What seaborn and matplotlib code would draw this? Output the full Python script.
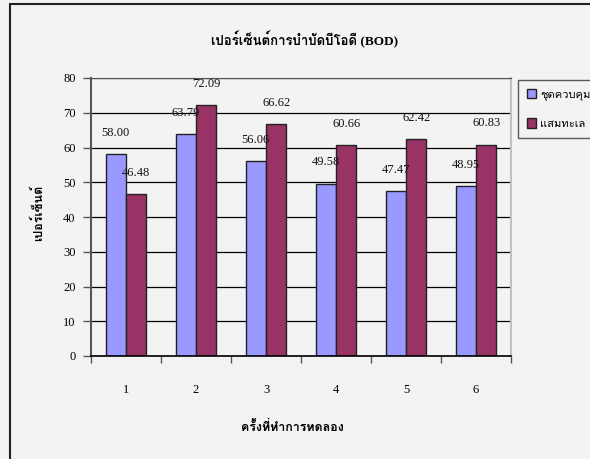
import matplotlib
matplotlib.use('Agg')
import matplotlib.pyplot as plt
import seaborn as sns
import pandas as pd
import numpy as np
from matplotlib import font_manager
from matplotlib.ft2font import FT2Font
from matplotlib.patches import Rectangle

# ---- data ----
trials = ['1', '2', '3', '4', '5', '6']
control = [58.00, 63.79, 56.06, 49.58, 47.47, 48.95]
avicennia = [46.48, 72.09, 66.62, 60.66, 62.42, 60.83]
series_names = ['ชุดควบคุม', 'แสมทะเล']
y_ticks = [0, 10, 20, 30, 40, 50, 60, 70, 80]
title = 'เปอร์เซ็นต์การบำบัดบีโอดี (BOD)'
x_label = 'ครั้งที่ทำการทดลอง'
y_label = 'เปอร์เซ็นต์'
colors = ['#9999FF', '#993366']


def find_thai_font():
    seen = set()
    for f in font_manager.fontManager.ttflist:
        if f.name in seen:
            continue
        seen.add(f.name)
        try:
            ft = FT2Font(f.fname)
            if ft.get_char_index(ord('ก')) and ft.get_char_index(ord('ม')):
                return f.name
        except Exception:
            pass
    return None


thai = find_thai_font()
fams = ['Liberation Serif']
if thai:
    fams.append(thai)
fams.append('DejaVu Sans')
plt.rcParams['font.family'] = fams

df = pd.DataFrame({
    'trial': trials * 2,
    'value': control + avicennia,
    'series': [series_names[0]] * len(trials) + [series_names[1]] * len(trials),
})

bg = '#f3f3f3'
fig = plt.figure(figsize=(5.9, 4.59), dpi=100, facecolor=bg)
ax = fig.add_axes([91 / 590, 1 - 356 / 459, (511 - 91) / 590, (356 - 78) / 459])
ax.set_facecolor(bg)

sns.barplot(data=df, x='trial', y='value', hue='series', palette=colors,
            width=0.585, gap=0, edgecolor='#222222', linewidth=1.0,
            ax=ax, legend=True, saturation=1)

for cont in ax.containers:
    ax.bar_label(cont, fmt='%.2f', padding=11, fontsize=9, color='#111111')

ax.set_ylim(0, 80)
ax.set_xlim(-0.5, 5.5)
ax.set_yticks(y_ticks)
ax.yaxis.grid(True, color='black', linewidth=0.9)
ax.set_axisbelow(True)

# x ticks: marks at category boundaries, labels at centers
ax.set_xticks(np.arange(-0.5, 6.0, 1.0))
ax.set_xticklabels([])
ax.set_xticks(np.arange(0, 6), minor=True)
ax.set_xticklabels(trials, minor=True, fontsize=9)
ax.tick_params(axis='x', which='major', length=5, width=1, color='#555555', direction='out')
ax.tick_params(axis='x', which='minor', length=0, pad=20)
ax.tick_params(axis='y', length=6, width=1, color='#555555', direction='out', pad=5, labelsize=9)

ax.spines['left'].set_color('#555555')
ax.spines['left'].set_linewidth(1.5)
ax.spines['bottom'].set_color('black')
ax.spines['bottom'].set_linewidth(1.2)
ax.spines['right'].set_color('#c0c0c0')
ax.spines['right'].set_linewidth(1.5)
ax.spines['top'].set_color('#555555')

ax.set_xlabel('')
ax.set_ylabel('')
fig.text(305 / 590, 1 - 40 / 459, title, ha='center', va='center', fontsize=9.5, fontweight='bold')
fig.text(292 / 590, 1 - 427 / 459, x_label, ha='center', va='center', fontsize=9, fontweight='bold')
fig.text(38 / 590, 1 - 213 / 459, y_label, ha='center', va='center', fontsize=9, fontweight='bold', rotation=90)

leg = ax.legend(loc='upper left', bbox_to_anchor=(518 / 590, 1 - 80 / 459),
                bbox_transform=fig.transFigure, frameon=True, fancybox=False,
                fontsize=8, handlelength=0.85, handleheight=0.95, handletextpad=0.35,
                labelspacing=1.6, borderpad=0.8, borderaxespad=0, title=None)
leg.get_frame().set_edgecolor('#333333')
leg.get_frame().set_facecolor(bg)
leg.get_frame().set_linewidth(1.0)

# chart area border
fig.patches.append(Rectangle((10 / 590, -0.01), 1.0, 1 - 4 / 459 + 0.01, transform=fig.transFigure,
                             fill=False, edgecolor='#222222', linewidth=1.5, zorder=0))

fig.savefig('out.png', dpi=100, facecolor=bg)
